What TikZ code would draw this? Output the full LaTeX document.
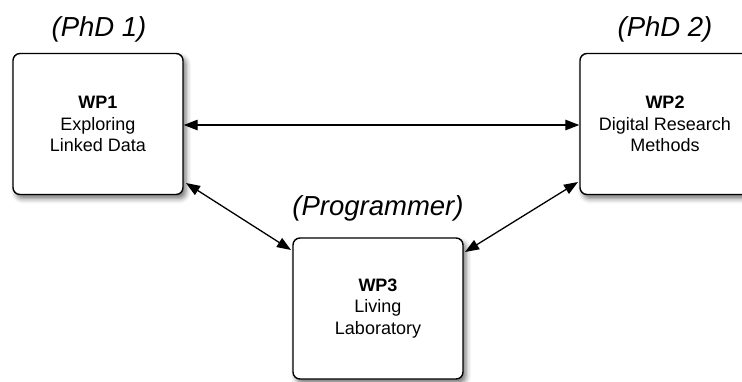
\documentclass[tikz,border=0pt]{standalone}
\usepackage{fontspec}
\setmainfont{Liberation Sans}
\usetikzlibrary{arrows.meta,shadows.blur}
\tikzset{
  wpbox/.style={draw=black, line width=1.4pt, rounded corners=7pt, fill=white,
    minimum width=170pt, minimum height=141pt, align=center,
    font=\fontsize{18}{21.5}\selectfont,
    blur shadow={shadow xshift=3pt, shadow yshift=-4pt, shadow blur radius=5pt, shadow opacity=55}},
  role/.style={font=\fontsize{27.5}{30}\selectfont\itshape, anchor=base},
  link/.style={line width=1.3pt, {Triangle[length=14pt,width=10.5pt]}-{Triangle[length=14pt,width=10.5pt]}}
}
\begin{document}
\begin{tikzpicture}[x=1pt,y=-1pt]
\useasboundingbox (0,0) rectangle (742,381);
% work packages
\node[wpbox] (wp1) at (98,124) {\textbf{WP1}\\Exploring\\Linked Data};
\node[wpbox] (wp2) at (665,124) {\textbf{WP2}\\Digital Research\\Methods};
\node[wpbox] (wp3) at (378,308.5) {\textbf{WP3}\\Living\\Laboratory};
% roles above the boxes
\node[role] (r1) at (99,36) {(PhD 1)};
\node[role] (r2) at (665,36) {(PhD 2)};
\node[role] (r3) at (378,215) {(Programmer)};
% links between work packages
\coordinate (a1) at (186,183);
\coordinate (a3) at (291,250);
\coordinate (b2) at (578,182);
\coordinate (b3) at (465,252);
\draw[link] (wp1.east |- 0,125) -- (wp2.west |- 0,125);
\draw[link] (a1) -- (a3);
\draw[link] (b2) -- (b3);
\end{tikzpicture}
\end{document}
